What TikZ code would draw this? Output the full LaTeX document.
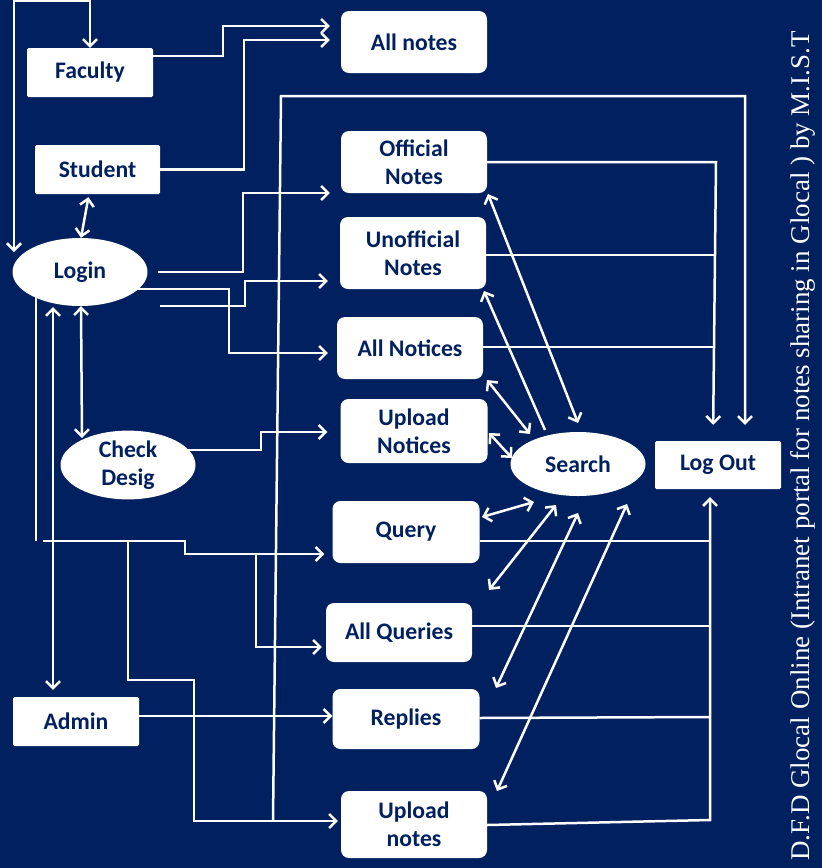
\documentclass[tikz,border=0pt]{standalone}
\usepackage{fontspec}
\setmainfont{Carlito}
\newfontfamily\titlefont{Liberation Serif}
\usetikzlibrary{arrows.meta,shapes.geometric}
\definecolor{navy}{RGB}{0,32,96}
\pgfdeclarelayer{back}
\pgfdeclarelayer{lines}
\pgfsetlayers{back,lines,main}
\begin{document}
\begin{tikzpicture}[x=1pt,y=-1pt,
  every node/.style={font=\fontsize{23.7}{28}\selectfont\bfseries, text=navy},
  box/.style={fill=white, rounded corners=8pt, inner sep=0pt, align=center},
  sbox/.style={fill=white, rounded corners=1.5pt, inner sep=0pt},
  oval/.style={ellipse, fill=white, inner sep=0pt, align=center},
  wire/.style={draw=white, line width=2.5pt},
  tip/.tip={Straight Barb[length=7pt,width=14pt]},
  arr/.style={wire, -tip},
  darr/.style={wire, tip-tip}]
\begin{pgfonlayer}{back}
\fill[navy] (0,0) rectangle (822,868);
\end{pgfonlayer}
\useasboundingbox (0,0) rectangle (822,868);

% nodes
\node[sbox, minimum width=126pt, minimum height=49pt] (fac) at (90,72.5) {Faculty};
\node[sbox, minimum width=125pt, minimum height=49pt] (stu) at (97.5,169.5) {Student};
\node[sbox, minimum width=126pt, minimum height=49pt] (adm) at (76,721.5) {Admin};
\node[sbox, minimum width=126pt, minimum height=48pt] (lo) at (718,465) {Log Out};
\node[box, minimum width=146pt, minimum height=62pt] (alln) at (414,42) {All notes};
\node[box, minimum width=146pt, minimum height=62pt] (off) at (414,162) {Official\\Notes};
\node[box, minimum width=146pt, minimum height=72pt] (unoff) at (413,253) {Unofficial\\Notes};
\node[box, minimum width=146pt, minimum height=62pt] (anot) at (410,348) {All Notices};
\node[box, minimum width=147pt, minimum height=64pt] (upn) at (414,431) {Upload\\Notices};
\node[box, minimum width=147pt, minimum height=62pt] (qry) at (406,532) {Query};
\node[box, minimum width=146pt, minimum height=59pt] (aq) at (399,632.5) {All Queries};
\node[box, minimum width=147pt, minimum height=60pt] (rep) at (406,719) {Replies};
\node[box, minimum width=146pt, minimum height=67pt] (upl) at (414,824.5) {Upload\\notes};
\node[oval, minimum width=135pt, minimum height=64pt] (srch) at (578,464) {Search};
\node[oval, minimum width=135pt, minimum height=68pt] (log) at (80,272) {Login};
\node[oval, minimum width=135pt, minimum height=68pt] (chk) at (128,465) {Check\\Desig};
\node[rotate=90, text=white, font=\titlefont\fontsize{27}{30}\selectfont] (title) at (803,446)
  {D.F.D Glocal Online (Intranet portal for notes sharing in Glocal ) by M.I.S.T};

\coordinate (logtl) at (14,252);
\coordinate (j1) at (43,541);
\coordinate (jq) at (256,554);
\coordinate (ju) at (128,541);
\coordinate (jb) at (273,821);

\begin{pgfonlayer}{lines}
% Faculty <-> Login loop
\draw[darr] (fac.north) -- (fac.north |- 0,1) -- (14,1) -- (logtl);
% Faculty, Student -> All notes
\draw[arr, shorten >=11pt] (fac.east |- 0,56) -| (223,26) -- (alln.west |- 0,26);
\draw[arr, shorten >=11pt] (stu.east) -| (244,40) -- (alln.west |- 0,40);
% Student <-> Login
\draw[darr, shorten <=3pt] (stu.south -| 89,0) -- (log.north -| 81,0);
% Login -> notes boxes
\draw[arr, shorten >=11pt] ([xshift=10pt]log.east) -| (243,193) -- (off.west |- 0,193);
\draw[arr, shorten >=12pt] ([xshift=12pt]log.east |- 0,306) -| (245,281) -- (unoff.west |- 0,281);
\draw[arr, shorten >=9pt] (log.center |- 0,289) -| (229,353) -- (anot.west |- 0,353);
% Check Desig -> Upload Notices
\draw[arr, shorten >=13pt] (chk.center |- 0,450) -| (261,432) -- (upn.west |- 0,432);
% Login <-> Check Desig
\draw[darr] (log.south -| 81,0) -- (82,438);
% Admin <-> Login
\draw[darr, shorten >=7pt] (53,307) -- (adm.north -| 53,0);
% Login -> lower boxes
\draw[wire] (log.center -| 36,0) -- (36,541);
\draw[arr, shorten >=8pt] (j1) -- (185,541) -- (185,554) -- (qry.west |- 0,554);
\draw[arr, shorten >=4pt] (jq) -- (256,647) -- (aq.west |- 0,647);
\draw[arr, shorten >=3pt] (ju) -- (128,680) -- (194,680) -- (194,821) -- (upl.west |- 0,821);
% Admin -> Replies
\draw[arr] (adm.east |- 0,716) -- (rep.west |- 0,716);
% big loop to Log Out
\draw[arr, shorten >=16pt] (jb) -- (281,96) -- (745,96) -- (lo.north -| 745,0);
% right side to Log Out
\draw[arr, shorten >=16pt] (off.east |- 0,162) -- (716,162) -- (lo.north -| 713,0);
\draw[wire] (unoff.east |- 0,255) -- (715,255);
\draw[wire] (anot.east |- 0,347) -- (714,347);
\draw[arr, shorten >=8pt] (upl.east |- 0,825) -- (710,820) -- (lo.south -| 710,0);
\draw[wire] (qry.east |- 0,541) -- (710,541);
\draw[wire] (aq.east |- 0,626) -- (710,626);
\draw[wire] (rep.east |- 0,718) -- (710,717);
% Search links
\draw[darr] (488,194) -- (578,423);
\draw[arr] (545,430) -- (484,291);
\draw[darr] (487,380) -- (530,434);
\draw[darr] (489,433) -- (512,458);
\draw[darr] (482,517) -- (534,502);
\draw[darr] (489,590) -- (556,505);
\draw[darr] (496,688) -- (578,513);
\draw[darr] (497,791) -- (627,504);
\end{pgfonlayer}
\end{tikzpicture}
\end{document}
